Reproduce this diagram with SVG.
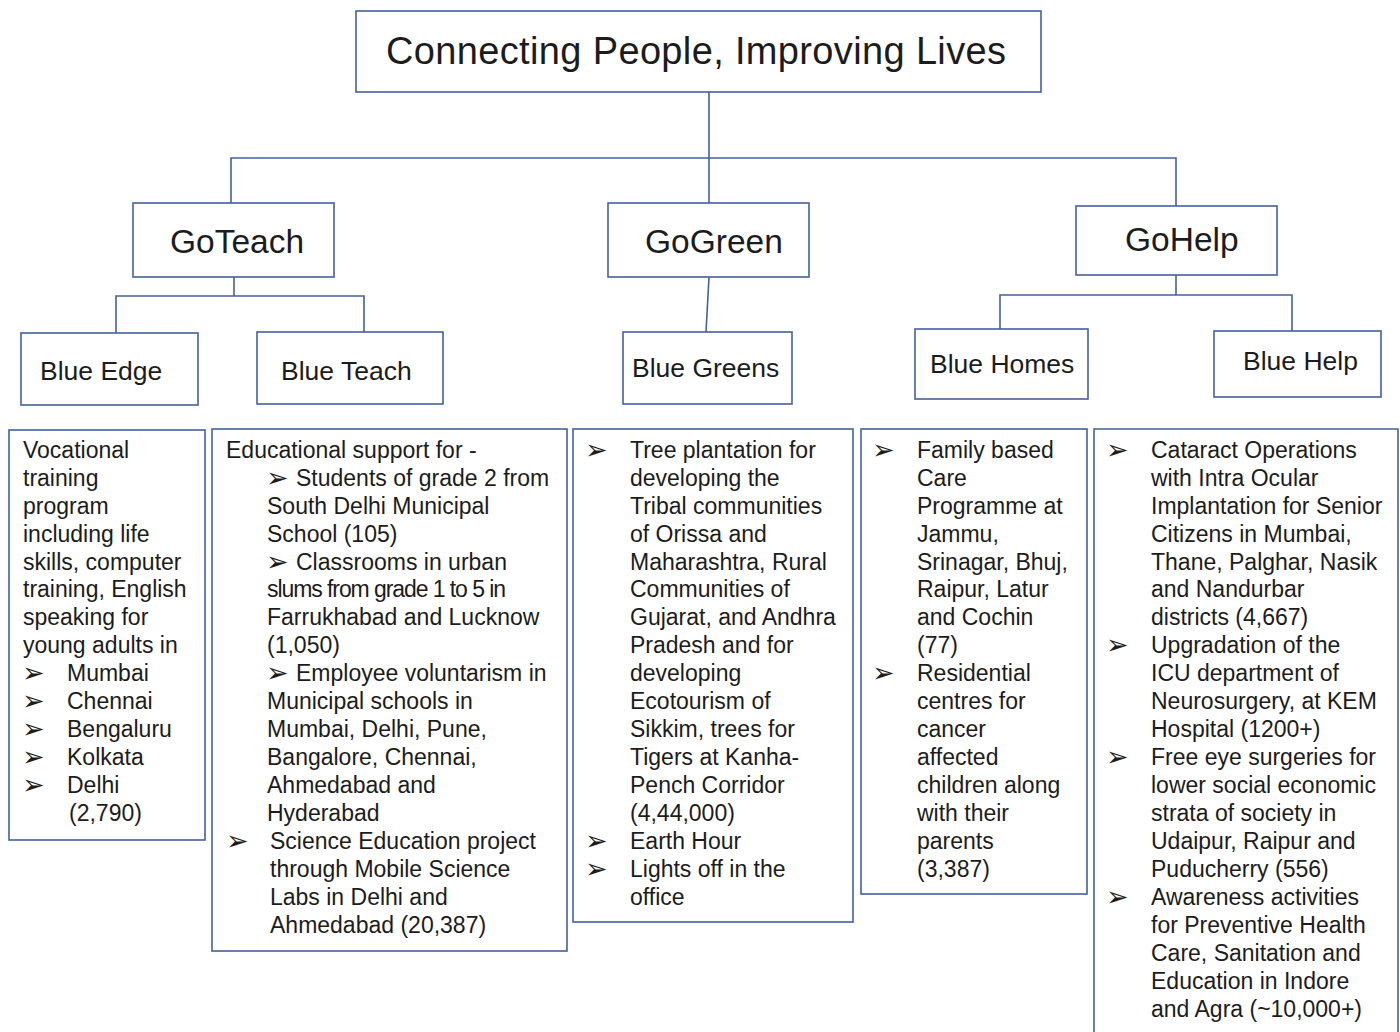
<svg xmlns="http://www.w3.org/2000/svg" width="1400" height="1032" viewBox="0 0 1400 1032">
<style>
.box{fill:#fff;stroke:#44619C;stroke-width:1.6}
.ln{fill:none;stroke:#44619C;stroke-width:1.6}
text{font-family:"Liberation Sans",Arial,sans-serif;fill:#1c1c1c}
.t1{font-size:38px}
.t2{font-size:33.5px}
.t3{font-size:26.5px}
.b{font-size:23px}
.bu{font-family:"DejaVu Sans",sans-serif;font-size:27px}
</style>
<rect width="1400" height="1032" fill="#fff"/>
<g id="connectors">
<path class="ln" d="M709,92 V203"/>
<path class="ln" d="M231,203 V158 H1176 V206"/>
<path class="ln" d="M234,277 V296 M116,333 V296 H364 V332"/>
<path class="ln" d="M709,277 L706,332"/>
<path class="ln" d="M1176,275 V295 M1000,329 V295 H1292 V331"/>
</g>
<g id="root"><rect class="box" x="356" y="11" width="685" height="81"/><text class="t1" x="386" y="64" textLength="620">Connecting People, Improving Lives</text></g>
<g id="goteach"><rect class="box" x="133" y="203" width="201" height="74"/><text class="t2" x="170" y="253">GoTeach</text></g>
<g id="gogreen"><rect class="box" x="608" y="203" width="201" height="74"/><text class="t2" x="645" y="253">GoGreen</text></g>
<g id="gohelp"><rect class="box" x="1076" y="206" width="201" height="69"/><text class="t2" x="1125" y="251">GoHelp</text></g>
<g id="blue-edge"><rect class="box" x="21" y="333" width="177" height="72"/><text class="t3" x="40" y="380">Blue Edge</text></g>
<g id="blue-teach"><rect class="box" x="257" y="332" width="186" height="72"/><text class="t3" x="281" y="380">Blue Teach</text></g>
<g id="blue-greens"><rect class="box" x="623" y="332" width="169" height="72"/><text class="t3" x="632" y="377">Blue Greens</text></g>
<g id="blue-homes"><rect class="box" x="915" y="329" width="173" height="70"/><text class="t3" x="930" y="373">Blue Homes</text></g>
<g id="blue-help"><rect class="box" x="1214" y="331" width="167" height="66"/><text class="t3" x="1243" y="370">Blue Help</text></g>

<g id="edge-details"><rect class="box" x="9" y="430" width="196" height="410"/>
<text class="b" x="23" y="458">Vocational</text>
<text class="b" x="23" y="486">training</text>
<text class="b" x="23" y="514">program</text>
<text class="b" x="23" y="542">including life</text>
<text class="b" x="23" y="570">skills, computer</text>
<text class="b" x="23" y="597">training, English</text>
<text class="b" x="23" y="625">speaking for</text>
<text class="b" x="23" y="653">young adults in</text>
<text class="bu" x="22" y="682">➢</text><text class="b" x="67" y="681">Mumbai</text>
<text class="bu" x="22" y="710">➢</text><text class="b" x="67" y="709">Chennai</text>
<text class="bu" x="22" y="738">➢</text><text class="b" x="67" y="737">Bengaluru</text>
<text class="bu" x="22" y="766">➢</text><text class="b" x="67" y="765">Kolkata</text>
<text class="bu" x="22" y="794">➢</text><text class="b" x="67" y="793">Delhi</text>
<text class="b" x="69" y="821">(2,790)</text>
</g>

<g id="teach-details"><rect class="box" x="212" y="429" width="355" height="522"/>
<text class="b" x="226" y="458">Educational support for -</text>
<text class="bu" x="266" y="487">➢</text><text class="b" x="296" y="486">Students of grade 2 from</text>
<text class="b" x="267" y="514">South Delhi Municipal</text>
<text class="b" x="267" y="542">School (105)</text>
<text class="bu" x="266" y="571">➢</text><text class="b" x="296" y="570">Classrooms in urban</text>
<text class="b" x="267" y="597" textLength="239">slums from grade 1 to 5 in</text>
<text class="b" x="267" y="625">Farrukhabad and Lucknow</text>
<text class="b" x="267" y="653">(1,050)</text>
<text class="bu" x="266" y="682">➢</text><text class="b" x="296" y="681">Employee voluntarism  in</text>
<text class="b" x="267" y="709">Municipal schools in</text>
<text class="b" x="267" y="737">Mumbai, Delhi, Pune,</text>
<text class="b" x="267" y="765">Bangalore, Chennai,</text>
<text class="b" x="267" y="793">Ahmedabad and</text>
<text class="b" x="267" y="821">Hyderabad</text>
<text class="bu" x="226" y="850">➢</text><text class="b" x="270" y="849">Science Education  project</text>
<text class="b" x="270" y="877">through Mobile Science</text>
<text class="b" x="270" y="905">Labs in Delhi and</text>
<text class="b" x="270" y="933">Ahmedabad (20,387)</text>
</g>

<g id="greens-details"><rect class="box" x="573" y="429" width="280" height="493"/>
<text class="bu" x="585" y="459">➢</text><text class="b" x="630" y="458">Tree plantation for</text>
<text class="b" x="630" y="486">developing the</text>
<text class="b" x="630" y="514">Tribal communities</text>
<text class="b" x="630" y="542">of Orissa and</text>
<text class="b" x="630" y="570">Maharashtra,  Rural</text>
<text class="b" x="630" y="597">Communities of</text>
<text class="b" x="630" y="625">Gujarat,  and Andhra</text>
<text class="b" x="630" y="653">Pradesh and for</text>
<text class="b" x="630" y="681">developing</text>
<text class="b" x="630" y="709">Ecotourism of</text>
<text class="b" x="630" y="737">Sikkim, trees for</text>
<text class="b" x="630" y="765">Tigers at Kanha-</text>
<text class="b" x="630" y="793">Pench Corridor</text>
<text class="b" x="630" y="821">(4,44,000)</text>
<text class="bu" x="585" y="850">➢</text><text class="b" x="630" y="849">Earth Hour</text>
<text class="bu" x="585" y="878">➢</text><text class="b" x="630" y="877">Lights off in the</text>
<text class="b" x="630" y="905">office</text>
</g>

<g id="homes-details"><rect class="box" x="861" y="429" width="226" height="465"/>
<text class="bu" x="872" y="459">➢</text><text class="b" x="917" y="458">Family based</text>
<text class="b" x="917" y="486">Care</text>
<text class="b" x="917" y="514">Programme at</text>
<text class="b" x="917" y="542">Jammu,</text>
<text class="b" x="917" y="570">Srinagar, Bhuj,</text>
<text class="b" x="917" y="597">Raipur, Latur</text>
<text class="b" x="917" y="625">and Cochin</text>
<text class="b" x="917" y="653">(77)</text>
<text class="bu" x="872" y="682">➢</text><text class="b" x="917" y="681">Residential</text>
<text class="b" x="917" y="709">centres for</text>
<text class="b" x="917" y="737">cancer</text>
<text class="b" x="917" y="765">affected</text>
<text class="b" x="917" y="793">children along</text>
<text class="b" x="917" y="821">with their</text>
<text class="b" x="917" y="849">parents</text>
<text class="b" x="917" y="877">(3,387)</text>
</g>

<g id="help-details"><path class="ln" d="M1094,1032 V429 H1398 V1032"/>
<text class="bu" x="1106" y="459">➢</text><text class="b" x="1151" y="458">Cataract Operations</text>
<text class="b" x="1151" y="486">with Intra  Ocular</text>
<text class="b" x="1151" y="514">Implantation  for Senior</text>
<text class="b" x="1151" y="542">Citizens in Mumbai,</text>
<text class="b" x="1151" y="570">Thane,  Palghar, Nasik</text>
<text class="b" x="1151" y="597">and Nandurbar</text>
<text class="b" x="1151" y="625">districts (4,667)</text>
<text class="bu" x="1106" y="654">➢</text><text class="b" x="1151" y="653">Upgradation of the</text>
<text class="b" x="1151" y="681">ICU  department  of</text>
<text class="b" x="1151" y="709">Neurosurgery,  at KEM</text>
<text class="b" x="1151" y="737">Hospital (1200+)</text>
<text class="bu" x="1106" y="766">➢</text><text class="b" x="1151" y="765">Free eye surgeries for</text>
<text class="b" x="1151" y="793">lower social economic</text>
<text class="b" x="1151" y="821">strata of society in</text>
<text class="b" x="1151" y="849">Udaipur, Raipur and</text>
<text class="b" x="1151" y="877">Puducherry  (556)</text>
<text class="bu" x="1106" y="906">➢</text><text class="b" x="1151" y="905">Awareness activities</text>
<text class="b" x="1151" y="933">for Preventive  Health</text>
<text class="b" x="1151" y="961">Care, Sanitation and</text>
<text class="b" x="1151" y="989">Education in Indore</text>
<text class="b" x="1151" y="1017">and Agra (~10,000+)</text>
</g>
</svg>
